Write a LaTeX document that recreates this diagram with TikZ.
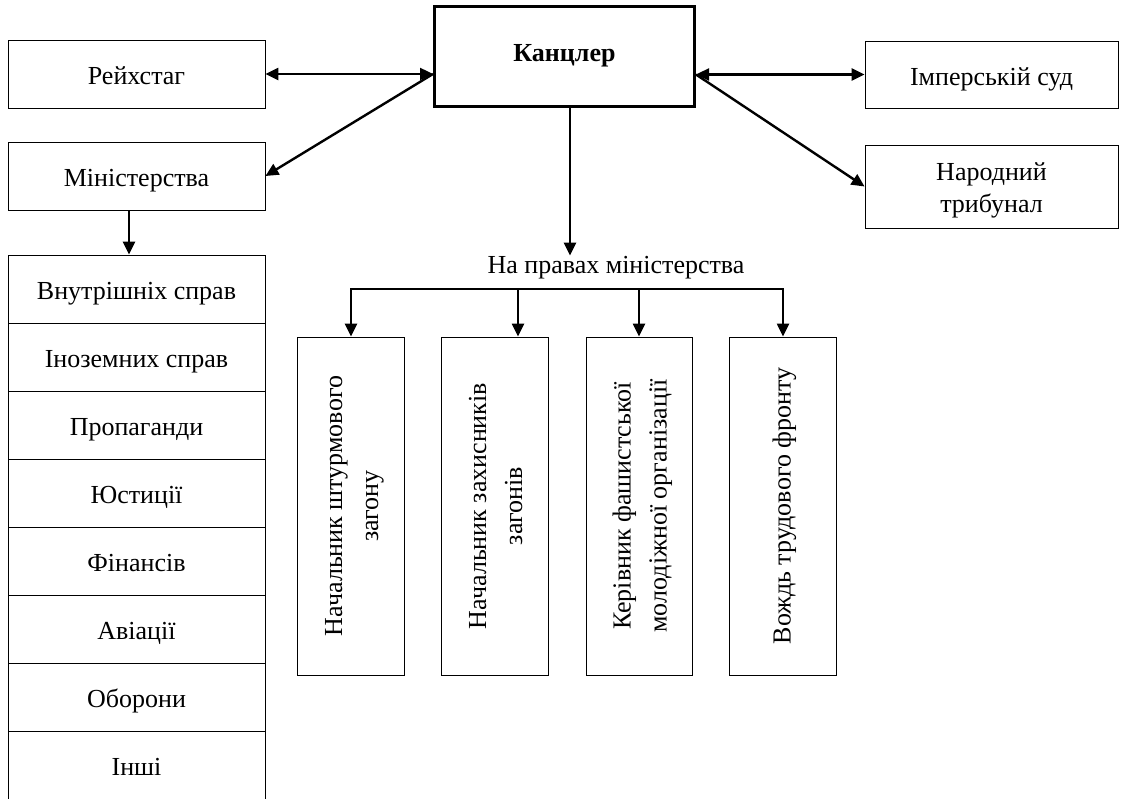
\documentclass[tikz,border=0pt]{standalone}
\usepackage{fontspec}
\setmainfont{Liberation Serif}
\usetikzlibrary{arrows.meta}
\begin{document}
\begin{tikzpicture}[x=1pt,y=-1pt,
  every node/.style={font=\fontsize{26}{30}\selectfont, inner sep=0pt},
  box/.style={draw, line width=0.9pt, minimum width=257pt, minimum height=68pt,
    text height=21pt, text depth=0pt},
  chief/.style={draw, line width=3pt, minimum width=260pt, minimum height=100pt,
    font=\fontsize{26}{30}\selectfont\bfseries, text height=9pt, text depth=0pt},
  court/.style={box, minimum width=253pt, minimum height=67pt},
  tribunal/.style={court, minimum height=83pt, align=center,
    font=\fontsize{26}{32}\selectfont, text height=51pt, text depth=0pt},
  vbox/.style={draw, line width=0.9pt, rotate=90, minimum width=338pt,
    minimum height=107pt, align=center, font=\fontsize{26}{36}\selectfont,
    text height=55pt, text depth=0pt},
  vboxone/.style={vbox, text height=18pt, text depth=2pt},
  ln/.style={line width=2.4pt},
  arr/.style={ln, -{Triangle[length=13pt,width=12pt]}},
  darr/.style={ln, {Triangle[length=13pt,width=12pt]}-{Triangle[length=13pt,width=12pt]}}
]
\useasboundingbox (0,0) rectangle (1123,798);

% top level
\node[chief] (kanz) at (564.5,56.5) {Канцлер};
\node[box] (reich) at (136.5,74) {Рейхстаг};
\node[box] (min) at (136.5,176) {Міністерства};
\node[court] (imp) at (991.5,74.5) {Імперській суд};
\node[tribunal] (trib) at (991.5,186.5) {Народний\\трибунал};

% list of ministries
\foreach \name [count=\i from 0] in {Внутрішніх справ, Іноземних справ, Пропаганди,
    Юстиції, Фінансів, Авіації, Оборони, Інші}
  \node[box] (r\i) at (136.5,289+68*\i) {\name};

% bodies with ministerial rank
\node[anchor=base] (lab) at (616,273) {На правах міністерства};
\node[vbox] (b1) at (350.5,506) {Начальник штурмового\\загону};
\node[vbox] (b2) at (494.5,506) {Начальник захисників\\загонів};
\node[vbox, minimum height=106pt] (b3) at (639,506) {Керівник фашистської\\молодіжної організації};
\node[vboxone] (b4) at (782.5,506) {Вождь трудового фронту};

% connectors
\draw[darr] (reich.east) -- (reich.east -| kanz.west);
\draw[arr] (reich.east -| kanz.west) -- (min.east);
\draw[darr] (imp.west -| kanz.east) -- (imp.west);
\draw[arr] (imp.west -| kanz.east) -- (trib.west);
\draw[arr] ([xshift=-7.5pt]min.south) -- ([xshift=-7.5pt]r0.north);
\draw[arr] ([xshift=5.5pt]kanz.south) -- ([xshift=5.5pt]kanz.south |- lab.north);

\coordinate (br1) at (351,289);
\coordinate (br2) at (518,289);
\coordinate (br3) at (639,289);
\coordinate (br4) at (783,289);
\draw[ln, line cap=rect] (br1) -- (br4);
\foreach \i in {1,...,4}
  \draw[arr] (br\i) -- (br\i |- b\i.east);
\end{tikzpicture}
\end{document}
